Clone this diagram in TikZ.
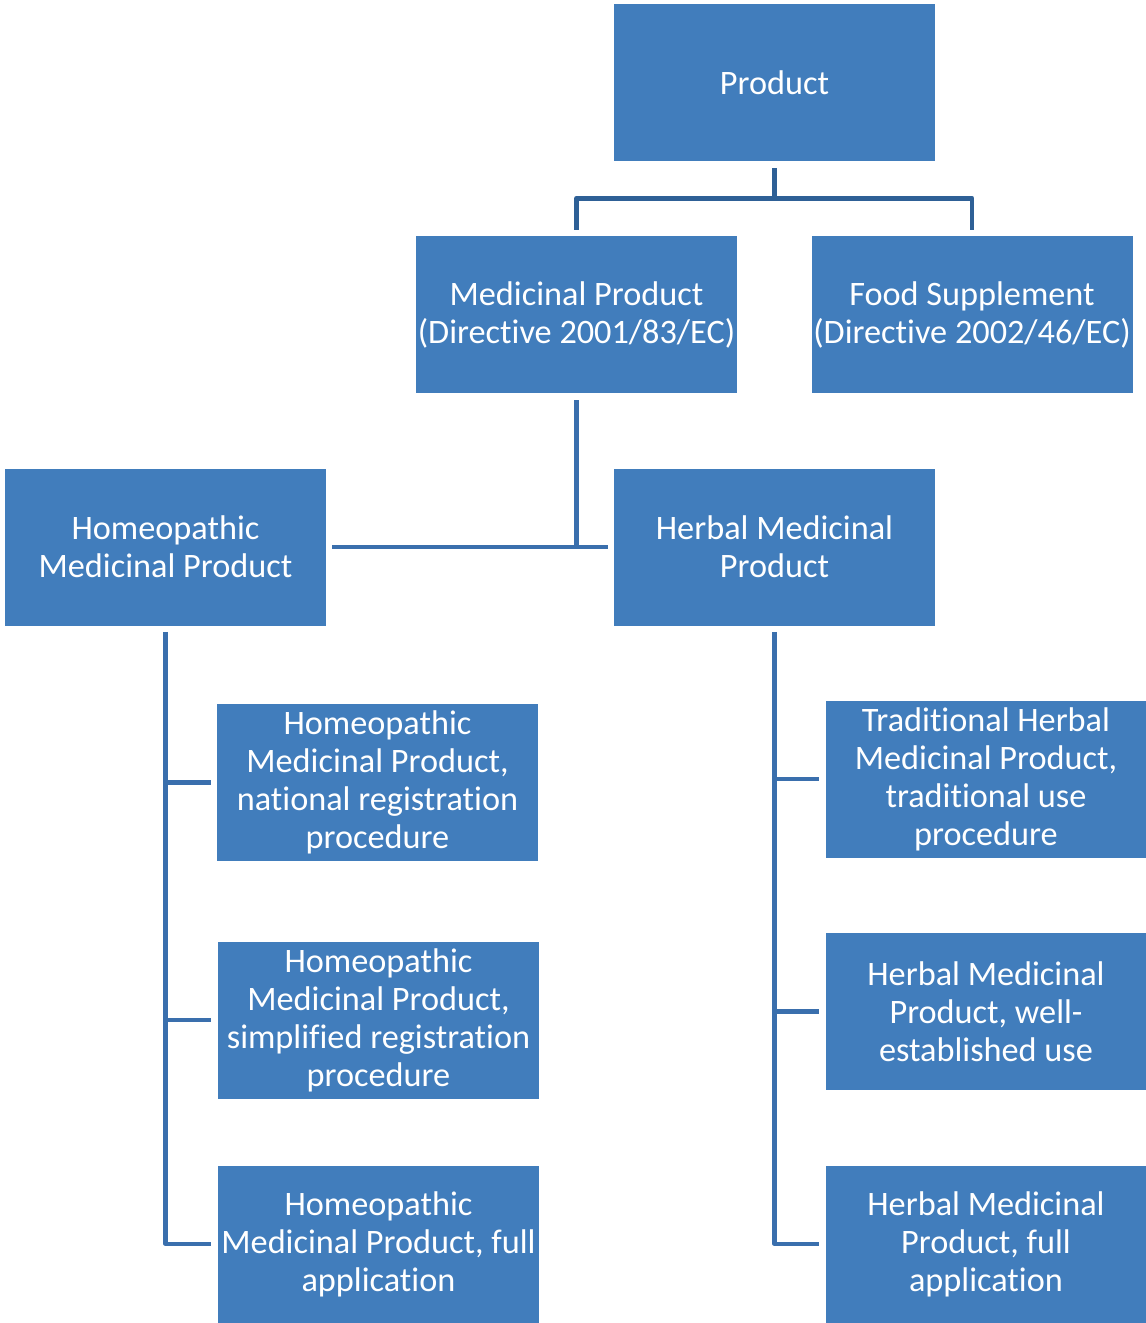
\documentclass[tikz,border=0pt]{standalone}
\usepackage{fontspec}
\setmainfont[Ligatures=NoCommon]{Carlito}
\definecolor{boxblue}{HTML}{417DBC}
\definecolor{topline}{HTML}{2E6096}
\definecolor{subline}{HTML}{3A6FAD}
\tikzset{
  box/.style={fill=boxblue, text=white, minimum width=6.42cm, minimum height=3.14cm,
    inner sep=0pt, align=center, font=\fontsize{19.5}{21.6}\selectfont},
  toplink/.style={draw=topline, line width=2.8pt, line join=round},
  link/.style={draw=subline, line width=2.3pt, line join=round}
}
\begin{document}
\begin{tikzpicture}
\useasboundingbox (0,0) rectangle (22.92,-26.46);

\node[box] (prod) at (15.49,-1.65) {Product};
\node[box] (med) at (11.53,-6.29) {Medicinal Product\\(Directive 2001/83/EC)};
\node[box] (food) at (19.44,-6.29) {Food Supplement\\(Directive 2002/46/EC)};

\node[box] (hom) at (3.31,-10.94) {Homeopathic\\Medicinal Product};
\node[box] (herb) at (15.49,-10.94) {Herbal Medicinal\\Product};

\node[box] (homnat) at (7.55,-15.65) {Homeopathic\\Medicinal Product,\\national registration\\procedure};
\node[box] (homsimp) at (7.57,-20.40) {Homeopathic\\Medicinal Product,\\simplified registration\\procedure};
\node[box] (homfull) at (7.57,-24.88) {Homeopathic\\Medicinal Product, full\\application};

\node[box] (trad) at (19.72,-15.58) {Traditional Herbal\\Medicinal Product,\\traditional use\\procedure};
\node[box] (herbwell) at (19.72,-20.23) {Herbal Medicinal\\Product, well-\\established use};
\node[box] (herbfull) at (19.72,-24.88) {Herbal Medicinal\\Product, full\\application};

% top level
\draw[toplink] ([yshift=-0.14cm]prod.south) -- ++(0,-0.6) -| ([yshift=0.12cm]med.north);
\draw[toplink] ([yshift=-0.14cm]prod.south) -- ++(0,-0.6) -| ([yshift=0.12cm]food.north);

% medicinal product
\draw[link] ([xshift=0.12cm]hom.east) -- ([xshift=-0.12cm]herb.west);
\draw[link] ([yshift=-0.14cm]med.south) -- (med.south |- hom.east);

% homeopathic branch
\draw[link] ([yshift=-0.12cm]hom.south) |- ([xshift=-0.14cm]homfull.west);
\draw[link] (hom.south |- homnat.west) -- ([xshift=-0.12cm]homnat.west);
\draw[link] (hom.south |- homsimp.west) -- ([xshift=-0.14cm]homsimp.west);

% herbal branch
\draw[link] ([yshift=-0.12cm]herb.south) |- ([xshift=-0.12cm]herbfull.west);
\draw[link] (herb.south |- trad.west) -- ([xshift=-0.12cm]trad.west);
\draw[link] (herb.south |- herbwell.west) -- ([xshift=-0.12cm]herbwell.west);

\end{tikzpicture}
\end{document}
